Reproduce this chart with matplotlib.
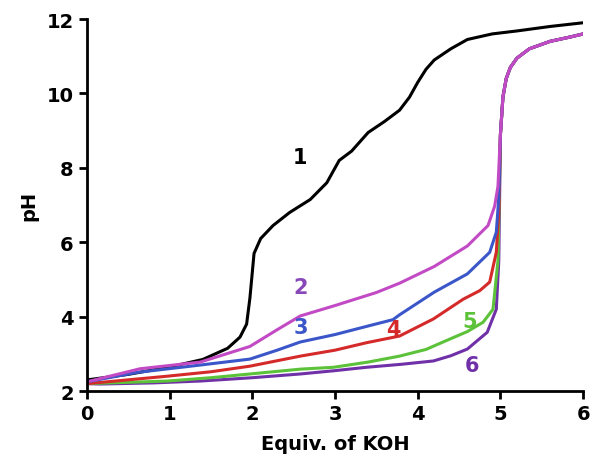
import matplotlib.pyplot as plt

# titration curves
x1 = [0, 0.5, 1.0, 1.4, 1.7, 1.85, 1.93, 1.97, 2.02, 2.1, 2.25, 2.45, 2.7, 2.9, 3.05, 3.2, 3.4, 3.6, 3.78, 3.9, 4.0, 4.1, 4.2, 4.4, 4.6, 4.9, 5.2, 5.6, 6.0]
y1 = [2.3, 2.45, 2.65, 2.85, 3.15, 3.45, 3.8, 4.5, 5.7, 6.1, 6.45, 6.8, 7.15, 7.6, 8.2, 8.45, 8.95, 9.25, 9.55, 9.9, 10.3, 10.65, 10.9, 11.2, 11.45, 11.6, 11.68, 11.8, 11.9]

tail_x = [5.0, 5.03, 5.07, 5.12, 5.2, 5.35, 5.6, 5.85, 6.0]
tail_y = [8.9, 9.9, 10.4, 10.7, 10.95, 11.2, 11.4, 11.52, 11.6]

x2 = [0, 0.64, 1.37, 1.97, 2.3, 2.58, 3.0, 3.5, 3.78, 4.2, 4.6, 4.85, 4.93, 4.97] + tail_x
y2 = [2.25, 2.6, 2.78, 3.2, 3.65, 4.02, 4.3, 4.65, 4.9, 5.35, 5.9, 6.45, 6.97, 7.5] + tail_y

x3 = [0, 0.6, 1.37, 1.97, 2.3, 2.58, 3.0, 3.4, 3.7, 3.78, 4.2, 4.6, 4.87, 4.95, 4.98] + tail_x
y3 = [2.25, 2.5, 2.7, 2.86, 3.1, 3.32, 3.52, 3.75, 3.92, 4.05, 4.66, 5.15, 5.73, 6.27, 7.2] + tail_y

x4 = [0, 0.97, 1.5, 1.97, 2.58, 3.0, 3.38, 3.78, 4.19, 4.55, 4.75, 4.87, 4.95, 4.98] + tail_x
y4 = [2.2, 2.4, 2.52, 2.67, 2.94, 3.1, 3.3, 3.48, 3.94, 4.47, 4.7, 4.93, 5.73, 6.8] + tail_y

x5 = [0, 0.97, 1.5, 1.97, 2.58, 2.98, 3.4, 3.78, 4.1, 4.39, 4.6, 4.79, 4.91, 4.97] + tail_x
y5 = [2.2, 2.27, 2.36, 2.46, 2.59, 2.64, 2.78, 2.94, 3.12, 3.4, 3.6, 3.85, 4.2, 5.5] + tail_y

x6 = [0, 0.16, 0.8, 1.37, 2.0, 2.58, 3.0, 3.38, 3.8, 4.19, 4.4, 4.6, 4.84, 4.95, 4.98] + tail_x
y6 = [2.2, 2.19, 2.22, 2.27, 2.36, 2.46, 2.55, 2.64, 2.72, 2.81, 2.95, 3.13, 3.58, 4.2, 5.5] + tail_y

series = [(x1, y1, "black"), (x6, y6, "#7030a8"), (x5, y5, "#5cc23a"),
          (x4, y4, "#d42a2a"), (x3, y3, "#3a56c8"), (x2, y2, "#c24ac4")]

labels = ["1", "2", "3", "4", "5", "6"]
label_x = [2.58, 2.58, 2.58, 3.7, 4.63, 4.66]
label_y = [8.3, 4.8, 3.72, 3.67, 3.88, 2.7]
label_colors = ["black", "#8848b8", "#3a56c8", "#d42a2a", "#5cc23a", "#7030a8"]

fig = plt.figure(figsize=(5.92, 4.77), dpi=100)
ax = fig.add_axes([0.147, 0.178, 0.838, 0.78])

for xs, ys, c in series:
    ax.plot(xs, ys, color=c, lw=2.2, solid_capstyle="round")

for t, lx, ly, c in zip(labels, label_x, label_y, label_colors):
    ax.text(lx, ly, t, color=c, fontsize=15, fontweight="bold", ha="center", va="center")

ax.set_xlim(0, 6)
ax.set_ylim(2, 12)
ax.set_xticks(range(0, 7))
ax.set_yticks(range(2, 13, 2))
ax.spines["top"].set_visible(False)
ax.spines["right"].set_visible(False)
for s in ["left", "bottom"]:
    ax.spines[s].set_linewidth(2)
ax.tick_params(direction="out", width=2, length=6, labelsize=14)
for lab in ax.get_xticklabels() + ax.get_yticklabels():
    lab.set_fontweight("bold")
ax.set_xlabel("Equiv. of KOH", fontsize=14, fontweight="bold", labelpad=8)
ax.set_ylabel("pH", fontsize=14, fontweight="bold", labelpad=6)

fig.savefig("out.png", dpi=100)
